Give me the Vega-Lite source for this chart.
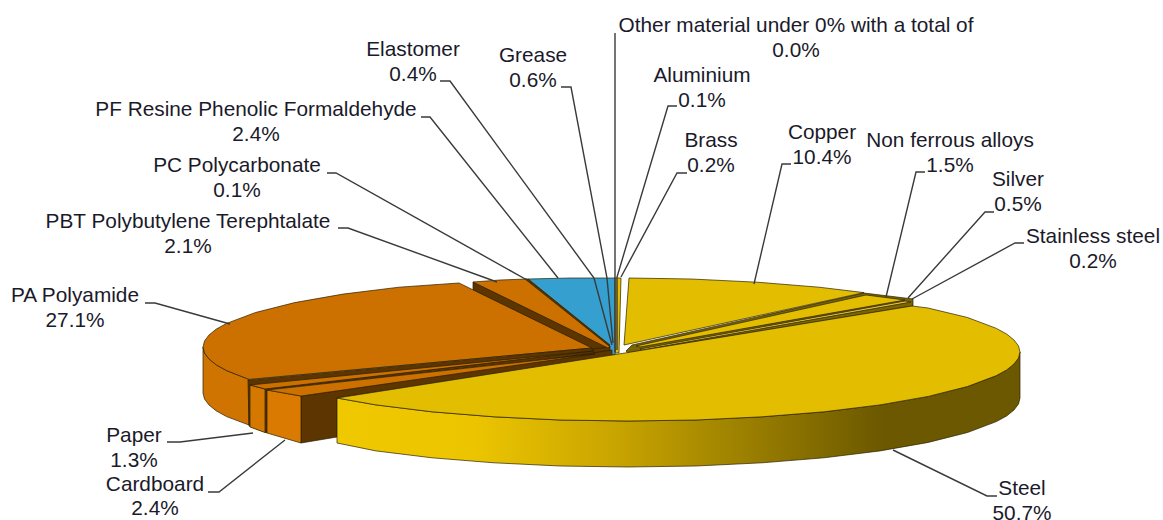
{"$schema":"https://vega.github.io/schema/vega-lite/v6.json","width":1163,"height":520,"padding":0,"autosize":{"type":"none"},"background":"white","view":{"stroke":null},
"datasets":{
"faces":[
{"face":"Core","i":0,"x":592,"y":348},{"face":"Core","i":1,"x":608,"y":345},{"face":"Core","i":2,"x":612,"y":350},{"face":"Core","i":3,"x":612,"y":356},{"face":"Core","i":4,"x":595,"y":356},
{"face":"Metal inner","i":0,"x":626,"y":351},{"face":"Metal inner","i":1,"x":632,"y":345},{"face":"Metal inner","i":2,"x":864,"y":293},{"face":"Metal inner","i":3,"x":913,"y":299},{"face":"Metal inner","i":4,"x":913,"y":306},{"face":"Metal inner","i":5,"x":628,"y":353},
{"face":"Copper top","i":0,"x":624,"y":345},{"face":"Copper top","i":1,"x":629,"y":278},{"face":"Copper top","i":2,"x":691,"y":279},{"face":"Copper top","i":3,"x":757,"y":282.2},{"face":"Copper top","i":4,"x":819,"y":287.2},{"face":"Copper top","i":5,"x":864,"y":292.6},
{"face":"Non ferrous top","i":0,"x":636,"y":346},{"face":"Non ferrous top","i":1,"x":866,"y":295},{"face":"Non ferrous top","i":2,"x":905,"y":300},{"face":"Non ferrous top","i":3,"x":640,"y":347},
{"face":"Silver top","i":0,"x":640,"y":349},{"face":"Silver top","i":1,"x":905,"y":301},{"face":"Silver top","i":2,"x":911,"y":302},{"face":"Silver top","i":3,"x":642,"y":350},
{"face":"Brass top","i":0,"x":614,"y":278},{"face":"Brass top","i":1,"x":621,"y":278},{"face":"Brass top","i":2,"x":619,"y":353},{"face":"Brass top","i":3,"x":615,"y":353},
{"face":"PF top","i":0,"x":528,"y":279},{"face":"PF top","i":1,"x":570,"y":278},{"face":"PF top","i":2,"x":615,"y":278},{"face":"PF top","i":3,"x":615,"y":355},{"face":"PF top","i":4,"x":610,"y":355},{"face":"PF top","i":5,"x":610,"y":346},
{"face":"PBT inner","i":0,"x":473,"y":282},{"face":"PBT inner","i":1,"x":473,"y":291},{"face":"PBT inner","i":2,"x":592,"y":349},{"face":"PBT inner","i":3,"x":610,"y":347},
{"face":"PBT top","i":0,"x":473,"y":282},{"face":"PBT top","i":1,"x":500,"y":280},{"face":"PBT top","i":2,"x":527,"y":279},{"face":"PBT top","i":3,"x":610,"y":346},{"face":"PBT top","i":4,"x":608,"y":348},
{"face":"PC top","i":0,"x":525,"y":279},{"face":"PC top","i":1,"x":528,"y":279},{"face":"PC top","i":2,"x":610,"y":345},{"face":"PC top","i":3,"x":609,"y":346},
{"face":"PA side","i":0,"x":203,"y":347},{"face":"PA side","i":1,"x":204.5,"y":353},{"face":"PA side","i":2,"x":209,"y":359},{"face":"PA side","i":3,"x":216.3,"y":364.9},{"face":"PA side","i":4,"x":226.6,"y":370.6},{"face":"PA side","i":5,"x":249,"y":379.4},{"face":"PA side","i":6,"x":249,"y":425},{"face":"PA side","i":7,"x":226.6,"y":416.6},{"face":"PA side","i":8,"x":216.3,"y":410.9},{"face":"PA side","i":9,"x":209,"y":405},{"face":"PA side","i":10,"x":204.5,"y":399},{"face":"PA side","i":11,"x":203,"y":393},
{"face":"PA top","i":0,"x":592,"y":348},{"face":"PA top","i":1,"x":249,"y":379.4},{"face":"PA top","i":2,"x":226.6,"y":370.6},{"face":"PA top","i":3,"x":216.3,"y":364.9},{"face":"PA top","i":4,"x":209,"y":359},{"face":"PA top","i":5,"x":204.5,"y":353},{"face":"PA top","i":6,"x":203,"y":347},{"face":"PA top","i":7,"x":204.5,"y":341},{"face":"PA top","i":8,"x":209,"y":335},{"face":"PA top","i":9,"x":216.3,"y":329.1},{"face":"PA top","i":10,"x":226.6,"y":323.4},{"face":"PA top","i":11,"x":255.5,"y":312.5},{"face":"PA top","i":12,"x":294.7,"y":302.6},{"face":"PA top","i":13,"x":343,"y":294.1},{"face":"PA top","i":14,"x":399,"y":287.2},{"face":"PA top","i":15,"x":459,"y":283},
{"face":"Strip A","i":0,"x":248,"y":380},{"face":"Strip A","i":1,"x":249,"y":426},{"face":"Strip A","i":2,"x":267,"y":433},{"face":"Strip A","i":3,"x":267,"y":390},{"face":"Strip A","i":4,"x":595,"y":354},{"face":"Strip A","i":5,"x":592,"y":348},
{"face":"Paper side","i":0,"x":250,"y":385},{"face":"Paper side","i":1,"x":265,"y":389},{"face":"Paper side","i":2,"x":265,"y":432.5},{"face":"Paper side","i":3,"x":250,"y":427},
{"face":"Paper top","i":0,"x":250,"y":385},{"face":"Paper top","i":1,"x":265,"y":389},{"face":"Paper top","i":2,"x":593,"y":351},
{"face":"Brown inner","i":0,"x":301,"y":396},{"face":"Brown inner","i":1,"x":612,"y":350},{"face":"Brown inner","i":2,"x":612,"y":356},{"face":"Brown inner","i":3,"x":337,"y":398},{"face":"Brown inner","i":4,"x":337,"y":437},{"face":"Brown inner","i":5,"x":301,"y":443},
{"face":"Cardboard side","i":0,"x":267,"y":390},{"face":"Cardboard side","i":1,"x":301,"y":396},{"face":"Cardboard side","i":2,"x":301,"y":443},{"face":"Cardboard side","i":3,"x":267,"y":433},
{"face":"Cardboard top","i":0,"x":267,"y":390},{"face":"Cardboard top","i":1,"x":301,"y":396},{"face":"Cardboard top","i":2,"x":595,"y":354}
],
"steel":[
{"face":"Steel side","i":0,"x":1020,"y":352},{"face":"Steel side","i":1,"x":1018.5,"y":358},{"face":"Steel side","i":2,"x":1014,"y":364},{"face":"Steel side","i":3,"x":1006.7,"y":369.9},{"face":"Steel side","i":4,"x":996.4,"y":375.6},{"face":"Steel side","i":5,"x":967.5,"y":386.5},{"face":"Steel side","i":6,"x":928.3,"y":396.4},{"face":"Steel side","i":7,"x":880,"y":404.9},{"face":"Steel side","i":8,"x":824,"y":411.8},{"face":"Steel side","i":9,"x":762,"y":416.8},{"face":"Steel side","i":10,"x":696,"y":420},{"face":"Steel side","i":11,"x":628,"y":421},{"face":"Steel side","i":12,"x":560,"y":420},{"face":"Steel side","i":13,"x":494,"y":416.8},{"face":"Steel side","i":14,"x":432,"y":411.8},{"face":"Steel side","i":15,"x":376,"y":404.9},{"face":"Steel side","i":16,"x":337,"y":398},
{"face":"Steel side","i":17,"x":337,"y":443},{"face":"Steel side","i":18,"x":376,"y":450.9},{"face":"Steel side","i":19,"x":432,"y":457.8},{"face":"Steel side","i":20,"x":494,"y":462.8},{"face":"Steel side","i":21,"x":560,"y":466},{"face":"Steel side","i":22,"x":628,"y":467},{"face":"Steel side","i":23,"x":696,"y":466},{"face":"Steel side","i":24,"x":762,"y":462.8},{"face":"Steel side","i":25,"x":824,"y":457.8},{"face":"Steel side","i":26,"x":880,"y":450.9},{"face":"Steel side","i":27,"x":928.3,"y":442.4},{"face":"Steel side","i":28,"x":967.5,"y":432.5},{"face":"Steel side","i":29,"x":996.4,"y":421.6},{"face":"Steel side","i":30,"x":1006.7,"y":415.9},{"face":"Steel side","i":31,"x":1014,"y":410},{"face":"Steel side","i":32,"x":1018.5,"y":404},{"face":"Steel side","i":33,"x":1020,"y":398}
],
"steelTop":[
{"face":"Steel top","i":0,"x":625,"y":353},{"face":"Steel top","i":1,"x":912,"y":306},{"face":"Steel top","i":2,"x":928,"y":308},{"face":"Steel top","i":3,"x":967.5,"y":317.5},{"face":"Steel top","i":4,"x":996.4,"y":328.4},{"face":"Steel top","i":5,"x":1006.7,"y":334.1},{"face":"Steel top","i":6,"x":1014,"y":340},{"face":"Steel top","i":7,"x":1018.5,"y":346},{"face":"Steel top","i":8,"x":1020,"y":352},{"face":"Steel top","i":9,"x":1018.5,"y":358},{"face":"Steel top","i":10,"x":1014,"y":364},{"face":"Steel top","i":11,"x":1006.7,"y":369.9},{"face":"Steel top","i":12,"x":996.4,"y":375.6},{"face":"Steel top","i":13,"x":967.5,"y":386.5},{"face":"Steel top","i":14,"x":928.3,"y":396.4},{"face":"Steel top","i":15,"x":880,"y":404.9},{"face":"Steel top","i":16,"x":824,"y":411.8},{"face":"Steel top","i":17,"x":762,"y":416.8},{"face":"Steel top","i":18,"x":696,"y":420},{"face":"Steel top","i":19,"x":628,"y":421},{"face":"Steel top","i":20,"x":560,"y":420},{"face":"Steel top","i":21,"x":494,"y":416.8},{"face":"Steel top","i":22,"x":432,"y":411.8},{"face":"Steel top","i":23,"x":376,"y":404.9},{"face":"Steel top","i":24,"x":337,"y":398}
],
"leaders":[
{"material":"Steel","i":0,"x":893,"y":450},{"material":"Steel","i":1,"x":987,"y":496},{"material":"Steel","i":2,"x":997,"y":496},
{"material":"Cardboard","i":0,"x":208,"y":492},{"material":"Cardboard","i":1,"x":219,"y":492},{"material":"Cardboard","i":2,"x":285,"y":440},
{"material":"Paper","i":0,"x":167,"y":442},{"material":"Paper","i":1,"x":180,"y":442},{"material":"Paper","i":2,"x":253,"y":433},
{"material":"PA Polyamide","i":0,"x":145,"y":303},{"material":"PA Polyamide","i":1,"x":155,"y":303},{"material":"PA Polyamide","i":2,"x":230,"y":324},
{"material":"PBT","i":0,"x":338,"y":228},{"material":"PBT","i":1,"x":348,"y":228},{"material":"PBT","i":2,"x":497,"y":282},
{"material":"PC","i":0,"x":327,"y":173},{"material":"PC","i":1,"x":336,"y":173},{"material":"PC","i":2,"x":527,"y":280},
{"material":"PF","i":0,"x":421,"y":117},{"material":"PF","i":1,"x":430,"y":117},{"material":"PF","i":2,"x":558,"y":278},
{"material":"Elastomer","i":0,"x":440,"y":81},{"material":"Elastomer","i":1,"x":450,"y":81},{"material":"Elastomer","i":2,"x":594,"y":278},{"material":"Elastomer","i":3,"x":612,"y":345},
{"material":"Grease","i":0,"x":561,"y":87},{"material":"Grease","i":1,"x":571,"y":87},{"material":"Grease","i":2,"x":607,"y":278},{"material":"Grease","i":3,"x":613,"y":343},
{"material":"Other","i":0,"x":615,"y":33},{"material":"Other","i":1,"x":615,"y":352},
{"material":"Aluminium","i":0,"x":677,"y":106},{"material":"Aluminium","i":1,"x":668,"y":106},{"material":"Aluminium","i":2,"x":617,"y":277},{"material":"Aluminium","i":3,"x":617,"y":350},
{"material":"Brass","i":0,"x":687,"y":173},{"material":"Brass","i":1,"x":677,"y":173},{"material":"Brass","i":2,"x":621,"y":277},
{"material":"Copper","i":0,"x":791,"y":164},{"material":"Copper","i":1,"x":782,"y":164},{"material":"Copper","i":2,"x":754,"y":284},
{"material":"Non ferrous alloys","i":0,"x":925,"y":172},{"material":"Non ferrous alloys","i":1,"x":916,"y":172},{"material":"Non ferrous alloys","i":2,"x":886,"y":297},
{"material":"Silver","i":0,"x":994,"y":212},{"material":"Silver","i":1,"x":985,"y":212},{"material":"Silver","i":2,"x":908,"y":298},
{"material":"Stainless steel","i":0,"x":1024,"y":243},{"material":"Stainless steel","i":1,"x":1015,"y":243},{"material":"Stainless steel","i":2,"x":912,"y":299}
],
"labels":[
{"material":"Steel","value":50.7,"lines":["Steel","50.7%"],"x":1022,"y":489},
{"material":"Cardboard","value":2.4,"lines":["Cardboard","2.4%"],"x":155,"y":484.5},
{"material":"Paper","value":1.3,"lines":["Paper","1.3%"],"x":134,"y":436},
{"material":"PA Polyamide","value":27.1,"lines":["PA Polyamide","27.1%"],"x":75,"y":296},
{"material":"PBT Polybutylene Terephtalate","value":2.1,"lines":["PBT Polybutylene Terephtalate","2.1%"],"x":188,"y":222},
{"material":"PC Polycarbonate","value":0.1,"lines":["PC Polycarbonate","0.1%"],"x":237,"y":166},
{"material":"PF Resine Phenolic Formaldehyde","value":2.4,"lines":["PF Resine Phenolic Formaldehyde","2.4%"],"x":256,"y":110},
{"material":"Elastomer","value":0.4,"lines":["Elastomer","0.4%"],"x":413,"y":50},
{"material":"Grease","value":0.6,"lines":["Grease","0.6%"],"x":533,"y":56},
{"material":"Other material under 0% with a total of","value":0.0,"lines":["Other material under 0% with a total of","0.0%"],"x":796,"y":26},
{"material":"Aluminium","value":0.1,"lines":["Aluminium","0.1%"],"x":702,"y":76},
{"material":"Brass","value":0.2,"lines":["Brass","0.2%"],"x":711,"y":141},
{"material":"Copper","value":10.4,"lines":["Copper","10.4%"],"x":822,"y":133},
{"material":"Non ferrous alloys","value":1.5,"lines":["Non ferrous alloys","1.5%"],"x":950,"y":141},
{"material":"Silver","value":0.5,"lines":["Silver","0.5%"],"x":1018,"y":180},
{"material":"Stainless steel","value":0.2,"lines":["Stainless steel","0.2%"],"x":1093,"y":237}
]},
"encoding":{
"x":{"field":"x","type":"quantitative","axis":null,"scale":{"domain":[0,1163],"range":[0,1163],"nice":false,"zero":false}},
"y":{"field":"y","type":"quantitative","axis":null,"scale":{"domain":[0,520],"range":[0,520],"nice":false,"zero":false}}
},
"layer":[
{"data":{"name":"faces"},"mark":{"type":"line","interpolate":"linear-closed","stroke":"#2a2000","strokeWidth":0.7},
"encoding":{"order":{"field":"i","type":"quantitative"},"detail":{"field":"face"},
"fill":{"field":"face","type":"nominal","legend":null,"scale":{
"domain":["Core","Metal inner","Copper top","Non ferrous top","Silver top","Brass top","PF top","PBT inner","PBT top","PC top","PA side","PA top","Strip A","Paper side","Paper top","Brown inner","Cardboard side","Cardboard top"],
"range":["#5c3500","#7a6500","#e3bd00","#e3bd00","#e9c84a","#e3bd00","#35a0d0","#5c3500","#cc7000","#5c3500","#cf7400","#cc7000","#5c3500","#d57800","#cc7000","#5c3500","#da7a00","#cc7000"]}}}},
{"data":{"name":"steel"},"mark":{"type":"line","interpolate":"linear-closed","stroke":"#2a2000","strokeWidth":0.7,"fill":{"gradient":"linear","x1":0,"x2":1,"y1":0,"y2":0,"stops":[{"offset":0,"color":"#f0c800"},{"offset":0.2,"color":"#ecc500"},{"offset":0.41,"color":"#c8a400"},{"offset":0.8,"color":"#6b5800"},{"offset":1,"color":"#6b5800"}]}},
"encoding":{"order":{"field":"i","type":"quantitative"}}},
{"data":{"name":"steelTop"},"mark":{"type":"line","interpolate":"linear-closed","stroke":"#2a2000","strokeWidth":0.7,"fill":"#e3bd00"},
"encoding":{"order":{"field":"i","type":"quantitative"}}},
{"data":{"name":"leaders"},"mark":{"type":"line","stroke":"#3a3a3a","strokeWidth":1.4},
"encoding":{"order":{"field":"i","type":"quantitative"},"detail":{"field":"material"}}},
{"data":{"name":"labels"},"mark":{"type":"text","font":"Liberation Sans","fontSize":20.8,"lineHeight":24.5,"align":"center","baseline":"middle","fill":"#1a1a2a"},
"encoding":{"text":{"field":"lines"}}}
]}
